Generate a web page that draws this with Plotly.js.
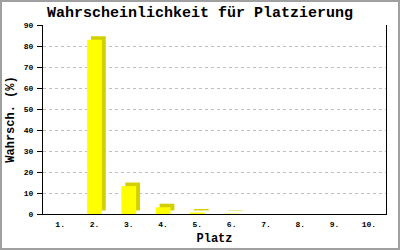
<!DOCTYPE html>
<html><head><meta charset="utf-8">
<script src="https://cdn.plot.ly/plotly-3.0.1.min.js"></script>
<style>
html,body{margin:0;padding:0;background:#fff;}
#wrap{position:relative;width:400px;height:250px;}
#chart{width:400px;height:250px;}
#frame{position:absolute;left:0;top:0;width:400px;height:250px;box-sizing:border-box;border:2px solid #a0a0a0;pointer-events:none;}
</style></head>
<body><div id="wrap"><div id="chart"></div><div id="frame"></div></div>
<script>
const categories = ["1.","2.","3.","4.","5.","6.","7.","8.","9.","10."];
const values = [0, 83, 13.3, 3.2, 0.7, 0.2, 0, 0, 0, 0];
const titleText = "Wahrscheinlichkeit für Platzierung";
const xTitle = "Platz";
const yTitle = "Wahrsch. (%)";
const yTicks = [0,10,20,30,40,50,60,70,80,90];

const mono = "Liberation Mono, DejaVu Sans Mono, monospace";
const barW = 0.43;
const depthX = 0.115;   // 3D depth in category units
const depthY = 1.7;     // 3D depth in value units

const side = {
  type:'bar', x:categories, y:values, base:depthY,
  width:barW, offset:-barW/2+depthX,
  marker:{color:'#d2d000', line:{width:0}}, hoverinfo:'skip'
};
const front = {
  type:'bar', x:categories, y:values,
  width:barW, offset:-barW/2,
  marker:{color:'#ffff00', line:{width:0}}
};

const layout = {
  width:400, height:250,
  margin:{l:43, r:14, t:25, b:36},
  paper_bgcolor:'#fff', plot_bgcolor:'#fff',
  showlegend:false, barmode:'overlay',
  title:{text:titleText, x:0.5, xanchor:'center', y:0.955, yanchor:'middle',
    font:{family:mono, size:15, color:'#000', weight:'bold'}},
  xaxis:{type:'category', range:[-0.5,9.5], showline:true, linecolor:'#000', linewidth:1,
    ticks:'', showgrid:false, zeroline:false, fixedrange:true,
    tickfont:{family:mono, size:8, color:'#000', weight:'bold'}, ticklabelstandoff:2,
    title:{text:xTitle, font:{family:mono, size:12, color:'#000', weight:'bold'}, standoff:6}},
  yaxis:{range:[0,90], tickvals:yTicks, ticktext:yTicks.map(String),
    showline:true, mirror:true, linecolor:'#000', linewidth:1,
    ticks:'outside', ticklen:5, tickcolor:'#000', tickwidth:1,
    showgrid:true, gridcolor:'#c0c0c0', griddash:'dot', gridwidth:1, zeroline:false,
    tickfont:{family:mono, size:8, color:'#000', weight:'bold'}, ticklabelstandoff:2,
    title:{text:yTitle, font:{family:mono, size:12, color:'#000', weight:'bold'}, standoff:6}}
};
Plotly.newPlot('chart', [side, front], layout, {displayModeBar:false, staticPlot:true});
</script></body></html>
